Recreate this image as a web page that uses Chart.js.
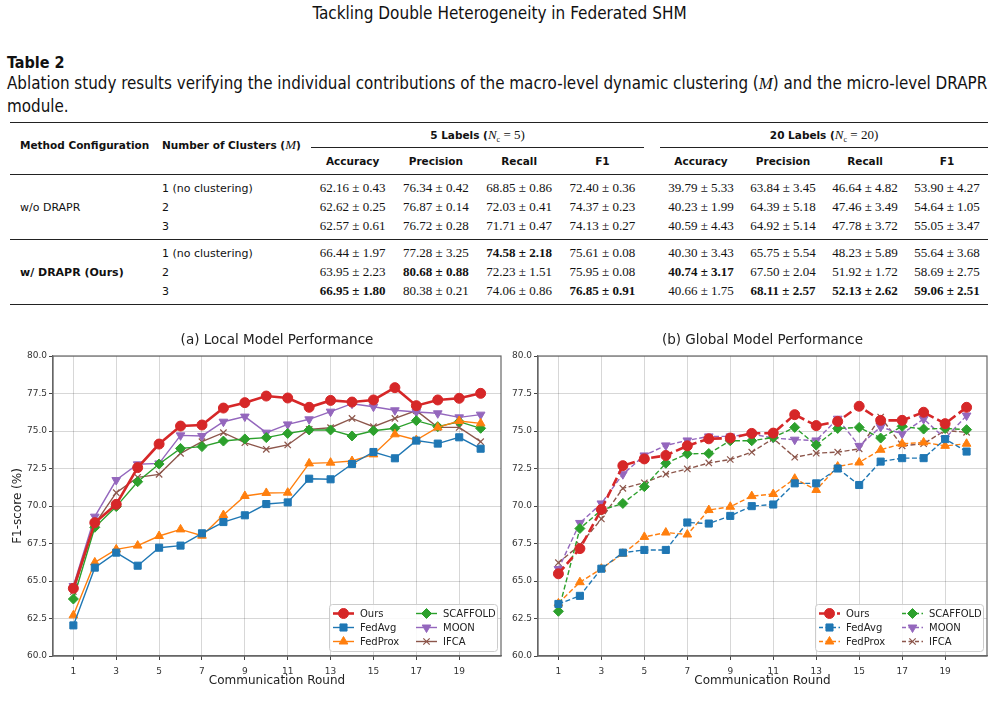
<!DOCTYPE html>
<html>
<head>
<meta charset="utf-8">
<script src="https://cdn.jsdelivr.net/npm/chart.js@4.4.0/dist/chart.umd.min.js"></script>
<style>
body { margin: 0; width: 999px; height: 705px; background: #fff; position: relative; overflow: hidden; color: #111; font-family: "DejaVu Sans", sans-serif; }
.narrow { font-family: "Liberation Sans Narrow", "DejaVu Sans Condensed", "DejaVu Sans", sans-serif; font-stretch: condensed; }
#runhead { position: absolute; top: 3px; left: 0; width: 999px; text-align: center; font-size: 17px; }
#tabtitle { position: absolute; top: 53px; left: 7px; font-size: 16px; font-weight: bold; }
#caption { position: absolute; top: 72px; left: 7px; font-size: 16.85px; line-height: 22px; white-space: nowrap; }
#caption i { font-family: "Liberation Serif", serif; }
table { position: absolute; top: 122px; left: 10px; width: 978px; border-collapse: collapse; table-layout: fixed; }
th { font-family: "DejaVu Sans", sans-serif; font-size: 10.5px; font-weight: bold; padding: 0; }
td { padding: 0; height: 19px; text-align: center; vertical-align: middle; font-family: "Liberation Serif", serif; font-size: 13px; }
td.txt { text-align: left; font-family: "DejaVu Sans", sans-serif; font-size: 11px; }
td.grp { font-weight: bold; }
.serif { font-family: "Liberation Serif", serif; font-weight: normal; font-size: 13px; }
canvas { position: absolute; }
</style>
</head>
<body>
<div id="runhead" class="narrow">Tackling Double Heterogeneity in Federated SHM</div>
<div id="tabtitle" class="narrow">Table 2</div>
<div id="caption" class="narrow">Ablation study results verifying the individual contributions of the macro-level dynamic clustering (<i>M</i>) and the micro-level DRAPR<br>module.</div>
<table id="tbl"></table>
<canvas id="local" width="510" height="375" style="left:0;top:325px"></canvas>
<canvas id="global" width="499" height="375" style="left:500px;top:325px"></canvas>
<script>
// ---- table data ----
const methodGroups = ['w/o DRAPR', 'w/ DRAPR (Ours)'];
const clusterLabels = ['1 (no clustering)', '2', '3'];
const metricNames = ['Accuracy', 'Precision', 'Recall', 'F1'];
const labelSettings = [['5 Labels', '5'], ['20 Labels', '20']];
const tableRows = [
    ['62.16 ± 0.43', '76.34 ± 0.42', '68.85 ± 0.86', '72.40 ± 0.36', '39.79 ± 5.33', '63.84 ± 3.45', '46.64 ± 4.82', '53.90 ± 4.27'],
    ['62.62 ± 0.25', '76.87 ± 0.14', '72.03 ± 0.41', '74.37 ± 0.23', '40.23 ± 1.99', '64.39 ± 5.18', '47.46 ± 3.49', '54.64 ± 1.05'],
    ['62.57 ± 0.61', '76.72 ± 0.28', '71.71 ± 0.47', '74.13 ± 0.27', '40.59 ± 4.43', '64.92 ± 5.14', '47.78 ± 3.72', '55.05 ± 3.47'],
    ['66.44 ± 1.97', '77.28 ± 3.25', '74.58 ± 2.18', '75.61 ± 0.08', '40.30 ± 3.43', '65.75 ± 5.54', '48.23 ± 5.89', '55.64 ± 3.68'],
    ['63.95 ± 2.23', '80.68 ± 0.88', '72.23 ± 1.51', '75.95 ± 0.08', '40.74 ± 3.17', '67.50 ± 2.04', '51.92 ± 1.72', '58.69 ± 2.75'],
    ['66.95 ± 1.80', '80.38 ± 0.21', '74.06 ± 0.86', '76.85 ± 0.91', '40.66 ± 1.75', '68.11 ± 2.57', '52.13 ± 2.62', '59.06 ± 2.51'],
];
// [row, col] of bold cells
const boldCells = [[3, 2], [4, 1], [4, 4], [5, 0], [5, 3], [5, 5], [5, 6], [5, 7]];

// ---- chart data ----
const rounds = [1, 2, 3, 4, 5, 6, 7, 8, 9, 10, 11, 12, 13, 14, 15, 16, 17, 18, 19, 20];
const roundTicks = [1, 3, 5, 7, 9, 11, 13, 15, 17, 19];
const f1Ticks = [60, 62.5, 65, 67.5, 70, 72.5, 75, 77.5, 80];
const methods = ['Ours', 'FedAvg', 'FedProx', 'SCAFFOLD', 'MOON', 'IFCA'];

const localOurs     = [64.51, 68.89, 70.11, 72.56, 74.13, 75.33, 75.40, 76.53, 76.89, 77.33, 77.20, 76.58, 77.04, 76.93, 77.07, 77.89, 76.69, 77.07, 77.18, 77.51];
const localFedAvg   = [62.04, 65.89, 66.89, 66.02, 67.22, 67.36, 68.18, 68.93, 69.38, 70.13, 70.24, 71.82, 71.78, 72.80, 73.60, 73.18, 74.36, 74.16, 74.58, 73.82];
const localFedProx  = [62.71, 66.24, 67.11, 67.36, 68.00, 68.44, 68.02, 69.40, 70.67, 70.87, 70.89, 72.84, 72.89, 73.00, 73.44, 74.78, 74.40, 75.24, 75.67, 75.51];
const localScaffold = [63.80, 68.58, 69.96, 71.62, 72.80, 73.84, 73.96, 74.33, 74.47, 74.56, 74.84, 75.07, 75.07, 74.67, 75.02, 75.18, 75.69, 75.29, 75.62, 75.18];
const localMoon     = [64.67, 69.29, 71.73, 72.78, 72.84, 74.71, 74.67, 75.62, 75.96, 74.89, 75.44, 75.78, 76.29, 76.82, 76.62, 76.38, 76.27, 76.18, 75.91, 76.09];
const localIfca     = [64.30, 68.80, 70.89, 71.91, 72.11, 73.51, 74.29, 74.89, 74.22, 73.78, 74.07, 75.11, 75.22, 75.84, 75.29, 75.84, 76.36, 75.24, 75.24, 74.29];

const globalOurs     = [65.48, 67.16, 69.77, 72.69, 73.14, 73.37, 74.01, 74.48, 74.53, 74.84, 74.86, 76.09, 75.36, 75.64, 76.65, 75.71, 75.71, 76.25, 75.49, 76.58];
const globalFedAvg   = [63.47, 64.01, 65.82, 66.89, 67.07, 67.07, 68.90, 68.83, 69.34, 69.99, 70.10, 71.51, 71.51, 72.50, 71.40, 72.96, 73.19, 73.19, 74.46, 73.63];
const globalFedProx  = [63.51, 64.92, 65.82, 66.82, 67.94, 68.23, 68.10, 69.73, 69.95, 70.66, 70.80, 71.82, 71.07, 72.63, 72.90, 73.75, 74.15, 74.24, 74.01, 74.15];
const globalScaffold = [62.98, 68.50, 69.73, 70.17, 71.29, 72.85, 73.48, 73.50, 74.35, 74.35, 74.57, 75.24, 74.06, 75.17, 75.24, 74.53, 75.31, 75.13, 75.17, 75.09];
const globalMoon     = [65.80, 68.87, 70.17, 72.12, 73.37, 74.04, 74.37, 74.64, 74.64, 74.80, 74.53, 74.42, 74.37, 75.82, 74.01, 75.27, 74.82, 75.80, 74.50, 76.03];
const globalIfca     = [66.22, 67.40, 69.14, 71.18, 71.55, 72.12, 72.47, 72.87, 73.10, 73.59, 74.50, 73.25, 73.52, 73.59, 73.81, 75.93, 74.01, 74.15, 75.04, 74.91];

// ---- build table ----
function buildTable() {
    const t = document.getElementById('tbl');
    const rule = (w) => `${w}px solid #222`;
    let html = '<colgroup><col style="width:142px"><col style="width:159px">';
    for (let i = 0; i < 4; i++) html += '<col style="width:83.25px">';
    html += '<col style="width:16px">';
    for (let i = 0; i < 4; i++) html += '<col style="width:82px">';
    html += '</colgroup>';
    html += `<tr style="height:25px;border-top:${rule(1.6)}">` +
        '<th rowspan="2" style="text-align:left;padding-left:10px;padding-bottom:8px">Method Configuration</th>' +
        '<th rowspan="2" style="text-align:left;padding-left:10px;padding-bottom:8px">Number of Clusters (<i class="serif">M</i>)</th>';
    labelSettings.forEach(([name, n], gi) => {
        html += `<th colspan="4" style="border-bottom:${rule(1)};padding-top:2px">${name} (<i class="serif">N</i><sub class="serif" style="font-size:8px">c</sub><span class="serif"> = ${n})</span></th>`;
        if (gi === 0) html += '<th></th>';
    });
    html += '</tr>';
    html += `<tr style="height:27px;border-bottom:${rule(1.1)}">`;
    labelSettings.forEach((_, gi) => {
        metricNames.forEach(m => { html += `<th>${m}</th>`; });
        if (gi === 0) html += '<th></th>';
    });
    html += '</tr>';
    tableRows.forEach((row, ri) => {
        const gi = Math.floor(ri / 3), k = ri % 3;
        let style = '';
        if (k === 0 && ri > 0) style = `style="border-top:${rule(1)}"`;
        if (ri === tableRows.length - 1) style = `style="border-bottom:${rule(1.6)}"`;
        const pad = k === 0 ? 'padding-top:3.5px' : (k === 2 ? 'padding-bottom:3.5px' : '');
        html += `<tr ${style}>`;
        if (k === 0) html += `<td rowspan="3" class="txt${gi === 1 ? ' grp' : ''}" style="padding-left:10px">${methodGroups[gi]}</td>`;
        html += `<td class="txt" style="padding-left:10px;${pad}">${clusterLabels[k]}</td>`;
        row.forEach((v, ci) => {
            const bold = boldCells.some(([r, c]) => r === ri && c === ci);
            html += `<td style="${pad}${bold ? ';font-weight:bold' : ''}">${v}</td>`;
            if (ci === 3) html += `<td style="${pad}"></td>`;
        });
        html += '</tr>';
    });
    t.innerHTML = html;
}
buildTable();

// ---- charts ----
const styles = {
    Ours:     { color: '#d62728', pointStyle: 'circle',   radius: 5,   width: 2.6 },
    FedAvg:   { color: '#1f77b4', pointStyle: 'rect',     radius: 5,   width: 1.4 },
    FedProx:  { color: '#ff7f0e', pointStyle: 'triangle', radius: 5,   width: 1.4 },
    SCAFFOLD: { color: '#2ca02c', pointStyle: 'rectRot',  radius: 5,   width: 1.4 },
    MOON:     { color: '#9467bd', pointStyle: 'triangle', radius: 5,   width: 1.4, rotation: 180 },
    IFCA:     { color: '#8c564b', pointStyle: 'crossRot', radius: 4.5, width: 1.4 },
};

function makeDatasets(series, dashed) {
    return methods.map((name, i) => {
        const s = styles[name];
        const isOurs = name === 'Ours';
        return {
            label: name,
            data: rounds.map((r, j) => ({ x: r, y: series[i][j] })),
            borderColor: s.color,
            backgroundColor: s.color,
            borderWidth: s.width,
            borderDash: dashed ? (isOurs ? [9, 4] : [5, 2.5]) : [],
            pointStyle: s.pointStyle,
            pointRotation: s.rotation || 0,
            pointRadius: s.radius,
            pointBorderWidth: name === 'IFCA' ? 1.2 : 1,
            pointBackgroundColor: s.color,
            pointBorderColor: s.color,
            tension: 0,
        };
    });
}

// legend box drawn inside the plot, 2 columns x 3 rows
const boxLegend = {
    id: 'boxLegend',
    afterDraw(chart) {
        const { ctx, chartArea } = chart;
        const w = 168, h = 47;
        const x0 = chartArea.right - w - 4, y0 = chartArea.bottom - h - 5;
        ctx.save();
        ctx.fillStyle = 'rgba(255,255,255,0.85)';
        ctx.strokeStyle = '#cccccc';
        ctx.lineWidth = 1;
        ctx.beginPath();
        ctx.roundRect(x0 + 0.5, y0 + 0.5, w, h, 3);
        ctx.fill(); ctx.stroke();
        ctx.font = '10px "DejaVu Sans"';
        ctx.textBaseline = 'middle';
        chart.data.datasets.forEach((ds, i) => {
            const col = Math.floor(i / 3), row = i % 3;
            const lx = x0 + 4 + col * 83, ly = y0 + 9.5 + row * 14;
            ctx.strokeStyle = ds.borderColor;
            ctx.lineWidth = ds.borderWidth;
            ctx.setLineDash(ds.borderDash.length ? (ds.label === 'Ours' ? [6, 3] : [4, 2.5]) : []);
            ctx.beginPath(); ctx.moveTo(lx, ly); ctx.lineTo(lx + 21, ly); ctx.stroke();
            ctx.setLineDash([]);
            ctx.fillStyle = ds.pointBackgroundColor;
            ctx.strokeStyle = ds.pointBorderColor;
            ctx.lineWidth = ds.pointBorderWidth;
            Chart.helpers.drawPoint(ctx, { pointStyle: ds.pointStyle, rotation: ds.pointRotation, radius: ds.pointRadius, borderWidth: ds.pointBorderWidth }, lx + 10.5, ly);
            ctx.fillStyle = '#222';
            ctx.fillText(ds.label, lx + 27, ly + 0.5);
        });
        ctx.restore();
    }
};

// full box frame (top/right spines)
const frame = {
    id: 'frame',
    beforeDatasetsDraw(chart) {
        const { ctx, chartArea: a } = chart;
        ctx.save();
        ctx.strokeStyle = '#666';
        ctx.lineWidth = 1.2;
        ctx.strokeRect(a.left, a.top, a.right - a.left, a.bottom - a.top);
        ctx.restore();
    }
};

function makeChart(id, title, series, dashed, showYTitle, yWidth, padRight) {
    const gridStyle = {
        color: 'rgba(0,0,0,0.2)', lineWidth: 0.8, borderDash: [1, 2],
        tickColor: '#444', tickLength: 4, tickBorderDash: [], tickWidth: 1,
    };
    return new Chart(document.getElementById(id), {
        type: 'line',
        data: { datasets: makeDatasets(series, dashed) },
        options: {
            responsive: false,
            animation: false,
            devicePixelRatio: 1,
            layout: { padding: { left: 0, right: padRight, top: 0, bottom: 0 } },
            plugins: {
                legend: { display: false },
                tooltip: { enabled: false },
                title: {
                    display: true, text: title, color: '#222', fullSize: false,
                    font: { family: 'DejaVu Sans', size: 13.5, weight: 'normal' },
                    padding: { top: 7, bottom: 7.8 },
                },
            },
            scales: {
                x: {
                    type: 'linear', min: 0.05, max: 20.95,
                    afterBuildTicks: (s) => { s.ticks = roundTicks.map(v => ({ value: v })); },
                    afterFit: (s) => { s.height = 44; },
                    ticks: { color: '#333', font: { family: 'DejaVu Sans', size: 9 }, padding: 6, maxRotation: 0 },
                    grid: gridStyle,
                    border: { color: '#666', width: 1.2 },
                    title: { display: true, text: 'Communication Round', color: '#222', font: { family: 'DejaVu Sans', size: 12 }, padding: { top: 0, bottom: 12 } },
                },
                y: {
                    min: 60, max: 80,
                    afterBuildTicks: (s) => { s.ticks = f1Ticks.map(v => ({ value: v })); },
                    afterFit: (s) => { s.width = yWidth; },
                    ticks: { color: '#333', font: { family: 'DejaVu Sans', size: 9 }, padding: 2, callback: (v) => v.toFixed(1) },
                    grid: gridStyle,
                    border: { color: '#666', width: 1.2 },
                    title: { display: showYTitle, text: 'F1-score (%)', color: '#222', font: { family: 'DejaVu Sans', size: 12 }, padding: { top: 11, bottom: 0 } },
                },
            },
        },
        plugins: [frame, boxLegend],
    });
}

makeChart('local', '(a) Local Model Performance',
    [localOurs, localFedAvg, localFedProx, localScaffold, localMoon, localIfca], false, true, 53, 9);
makeChart('global', '(b) Global Model Performance',
    [globalOurs, globalFedAvg, globalFedProx, globalScaffold, globalMoon, globalIfca], true, false, 38, 12);
</script>
</body>
</html>
